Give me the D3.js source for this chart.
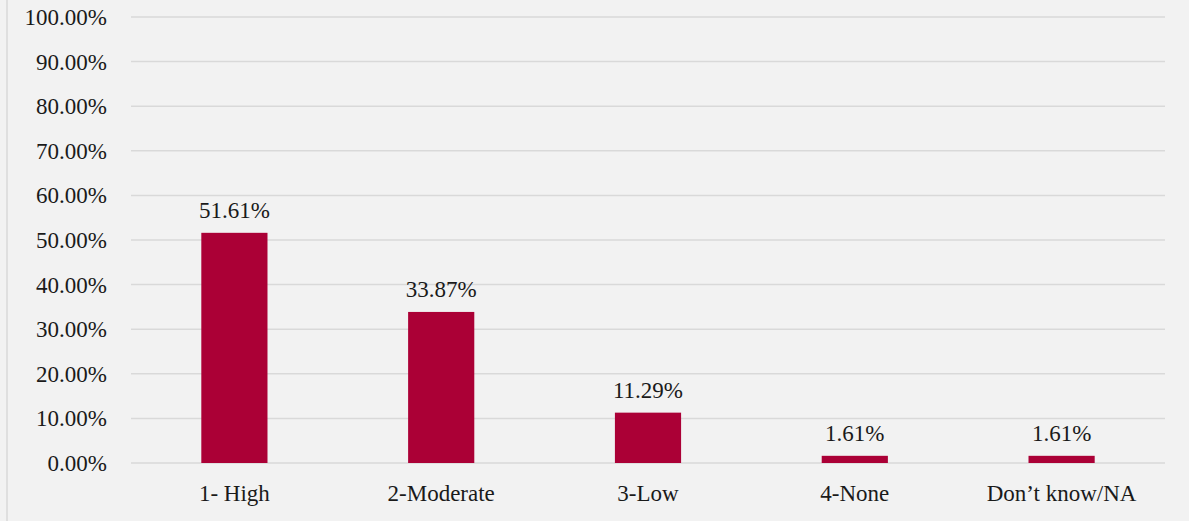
<!DOCTYPE html>
<html>
<head>
<meta charset="utf-8">
<script src="https://cdn.jsdelivr.net/npm/d3@7"></script>
<style>
  body { margin: 0; background: #f2f2f2; }
  svg { display: block; }
  text { font-family: "Liberation Serif", "Times New Roman", serif; fill: #1a1a1a; }
</style>
</head>
<body>
<svg id="chart" width="1189" height="521"></svg>
<script>
var categories = ['1- High', '2-Moderate', '3-Low', '4-None', 'Don\u2019t know/NA'];
var values = [51.61, 33.87, 11.29, 1.61, 1.61];
var yTicks = [0, 10, 20, 30, 40, 50, 60, 70, 80, 90, 100];

var W = 1189, H = 521;
var margin = {top: 17, left: 131, right: 24, bottom: 58};
var fontSize = '23px';
var svg = d3.select('#chart');

svg.append('rect').attr('width', W).attr('height', H).attr('fill', '#f2f2f2');
svg.append('line')
  .attr('x1', 7).attr('x2', 7).attr('y1', 0).attr('y2', H)
  .attr('stroke', '#d9d9d9').attr('stroke-width', 1.5);

var x = d3.scaleBand()
  .domain(categories)
  .range([margin.left, W - margin.right])
  .paddingInner(0.68)
  .paddingOuter(0.34);

var y = d3.scaleLinear()
  .domain([0, 100])
  .range([H - margin.bottom, margin.top]);

// gridlines
svg.append('g').selectAll('line')
  .data(yTicks)
  .enter().append('line')
  .attr('x1', margin.left).attr('x2', W - margin.right)
  .attr('y1', function(d){ return y(d); })
  .attr('y2', function(d){ return y(d); })
  .attr('stroke', '#d9d9d9').attr('stroke-width', 1.5);

// y labels
svg.append('g').selectAll('text')
  .data(yTicks)
  .enter().append('text')
  .attr('x', 107)
  .attr('y', function(d){ return y(d); })
  .attr('dy', '0.35em')
  .attr('text-anchor', 'end')
  .style('font-size', fontSize)
  .text(function(d){ return d.toFixed(2) + '%'; });

// bars
svg.append('g').selectAll('rect')
  .data(values)
  .enter().append('rect')
  .attr('x', function(d,i){ return x(categories[i]); })
  .attr('width', x.bandwidth())
  .attr('y', function(d){ return y(d); })
  .attr('height', function(d){ return y(0) - y(d); })
  .attr('fill', '#ab0036');

// data labels
svg.append('g').selectAll('text')
  .data(values)
  .enter().append('text')
  .attr('x', function(d,i){ return x(categories[i]) + x.bandwidth()/2; })
  .attr('y', function(d){ return y(d) - 15; })
  .attr('text-anchor', 'middle')
  .style('font-size', fontSize)
  .text(function(d){ return d.toFixed(2) + '%'; });

// category labels
svg.append('g').selectAll('text')
  .data(categories)
  .enter().append('text')
  .attr('x', function(d){ return x(d) + x.bandwidth()/2; })
  .attr('y', H - margin.bottom + 38)
  .attr('text-anchor', 'middle')
  .style('font-size', fontSize)
  .text(function(d){ return d; });
</script>
</body>
</html>
